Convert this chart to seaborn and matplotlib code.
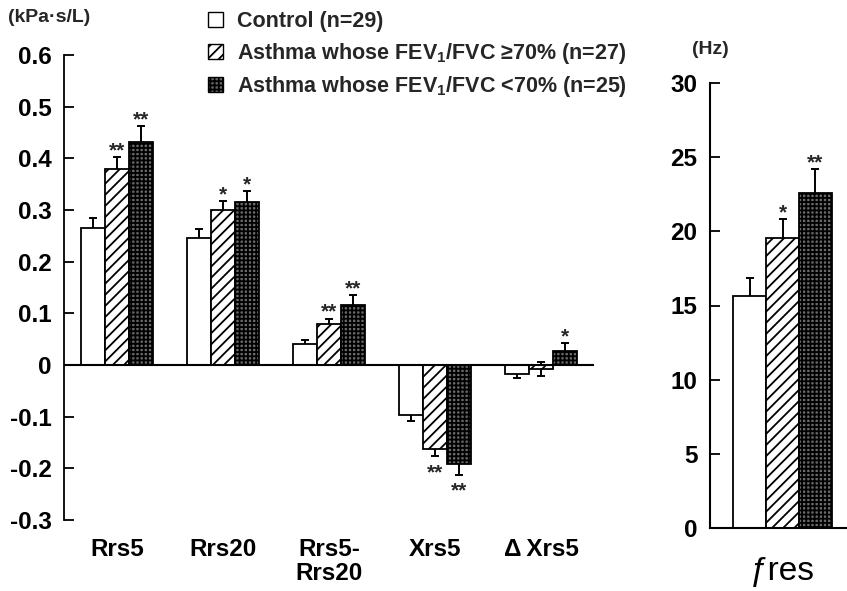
import numpy as np
import pandas as pd
import seaborn as sns
import matplotlib
matplotlib.use("Agg")
import matplotlib.pyplot as plt
from matplotlib.patches import Patch

# ---------------- data ----------------
params = ["Rrs5", "Rrs20", "Rrs5-\nRrs20", "Xrs5", "\u0394\u2009Xrs5"]
groups = ["Control (n=29)",
          "Asthma whose FEV1/FVC \u226570% (n=27)",
          "Asthma whose FEV1/FVC <70% (n=25)"]
legend_labels = ["Control (n=29)",
                 "Asthma whose FEV$_\\mathbf{1}$/FVC \u226570% (n=27)",
                 "Asthma whose FEV$_\\mathbf{1}$/FVC <70% (n=25)"]

control = [0.266, 0.245, 0.041, -0.096, -0.017]
control_se = [0.018, 0.018, 0.008, 0.012, 0.008]
mild = [0.380, 0.300, 0.080, -0.162, -0.007]
mild_se = [0.022, 0.017, 0.010, 0.015, 0.0135]
severe = [0.431, 0.315, 0.116, -0.191, 0.027]
severe_se = [0.032, 0.021, 0.020, 0.021, 0.016]

control_sig = ["", "", "", "", ""]
mild_sig = ["**", "*", "**", "**", ""]
severe_sig = ["**", "*", "**", "**", "*"]

fres_label = ["\u0192res"]
fres_mean = [15.65, 19.55, 22.6]
fres_se = [1.2, 1.3, 1.6]
fres_sig = ["", "*", "**"]

left_ticks = [0.6, 0.5, 0.4, 0.3, 0.2, 0.1, 0, -0.1, -0.2, -0.3]
left_ticklabels = ["0.6", "0.5", "0.4", "0.3", "0.2", "0.1", "0", "-0.1", "-0.2", "-0.3"]
right_ticks = [0, 5, 10, 15, 20, 25, 30]
right_ticklabels = ["0", "5", "10", "15", "20", "25", "30"]

# ---------------- style ----------------
sns.set_style("white")
plt.rcParams["font.family"] = ["Liberation Sans", "DejaVu Sans"]
plt.rcParams["font.weight"] = "bold"
plt.rcParams["axes.unicode_minus"] = False
plt.rcParams["mathtext.fontset"] = "custom"
plt.rcParams["mathtext.rm"] = "Liberation Sans:bold"
plt.rcParams["mathtext.bf"] = "Liberation Sans:bold"
plt.rcParams["hatch.linewidth"] = 1.3

styles = [dict(facecolor="white", hatch=""),
          dict(facecolor="white", hatch="///"),
          dict(facecolor="#6a6a6a", hatch="++++")]

W, H = 847, 591
fig = plt.figure(figsize=(W / 100, H / 100), dpi=100)
axL = fig.add_axes([64 / W, 71 / H, 530 / W, 465 / H])
axR = fig.add_axes([710 / W, 63 / H, 145 / W, 445 / H])

# ---------------- left panel ----------------
dfL = pd.DataFrame({
    "param": params * 3,
    "group": [g for g in groups for _ in params],
    "value": control + mild + severe,
})
sns.barplot(data=dfL, x="param", y="value", hue="group", order=params,
            hue_order=groups, palette={g: "white" for g in groups},
            width=0.68, errorbar=None, edgecolor="black", linewidth=1.3,
            saturation=1, legend=False, ax=axL)

ses = [control_se, mild_se, severe_se]
sigs = [control_sig, mild_sig, severe_sig]


def style_and_annotate(ax, containers, se_list, sig_list):
    for cont, st, se, sig in zip(containers, styles, se_list, sig_list):
        xs, tips = [], []
        for bar in cont:
            bar.set_facecolor(st["facecolor"])
            bar.set_hatch(st["hatch"])
            bar.set_edgecolor("black")
            bar.set_linewidth(1.3)
            bar.set_zorder(2)
            xs.append(bar.get_x() + bar.get_width() / 2)
            tips.append(bar.get_y() + bar.get_height())
        ax.errorbar(xs, tips, yerr=se, fmt="none", ecolor="black",
                    elinewidth=1.4, capsize=3.2, capthick=1.4, zorder=1)
        for x, t, e, s in zip(xs, tips, se, sig):
            if not s:
                continue
            if t >= 0:
                ax.annotate(s, (x, t + e), xytext=(0, 0.5), textcoords="offset points",
                            ha="center", va="baseline", fontsize=15, fontweight="bold")
            else:
                ax.annotate(s, (x, t - e), xytext=(0, -16), textcoords="offset points",
                            ha="center", va="baseline", fontsize=15, fontweight="bold")


style_and_annotate(axL, axL.containers, ses, sigs)
axL.axhline(0, color="black", lw=1.5, zorder=3)
axL.set_ylim(-0.3, 0.6)
axL.set_xlim(-0.5, 4.5)
axL.set_yticks(left_ticks)
axL.set_yticklabels(left_ticklabels)
axL.set_xlabel("")
axL.set_ylabel("")
for s in ["top", "right", "bottom"]:
    axL.spines[s].set_visible(False)
axL.spines["left"].set_linewidth(1.3)
axL.spines["left"].set_color("black")
axL.tick_params(axis="y", direction="in", length=7, width=1.3, labelsize=17.5,
                pad=9, left=True, colors="black")
axL.tick_params(axis="x", length=0, labelsize=17.5, pad=13, colors="black")
for lbl in axL.get_xticklabels() + axL.get_yticklabels():
    lbl.set_fontweight("bold")
for lbl in axL.get_xticklabels():
    lbl.set_linespacing(1.05)

# ---------------- right panel ----------------
dfR = pd.DataFrame({
    "param": fres_label * 3,
    "group": groups,
    "value": fres_mean,
})
sns.barplot(data=dfR, x="param", y="value", hue="group", order=fres_label,
            hue_order=groups, palette={g: "white" for g in groups},
            width=0.68, errorbar=None, edgecolor="black", linewidth=1.3,
            saturation=1, legend=False, ax=axR)
style_and_annotate(axR, axR.containers, [[v] for v in fres_se],
                   [[v] for v in fres_sig])
axR.set_ylim(0, 30)
axR.set_xlim(-0.5, 0.5)
axR.set_yticks(right_ticks)
axR.set_yticklabels(right_ticklabels)
axR.set_xlabel("")
axR.set_ylabel("")
for s in ["top", "right"]:
    axR.spines[s].set_visible(False)
for s in ["left", "bottom"]:
    axR.spines[s].set_linewidth(1.5)
    axR.spines[s].set_color("black")
axR.tick_params(axis="y", direction="in", length=7, width=1.3, labelsize=17.5,
                pad=9, left=True, colors="black")
axR.tick_params(axis="x", length=0, labelsize=24, pad=20, colors="black")
for lbl in axR.get_yticklabels():
    lbl.set_fontweight("bold")
for lbl in axR.get_xticklabels():
    lbl.set_fontweight("normal")

# ---------------- units & legend ----------------
fig.text(8 / W, 1 - 18 / H, "(kPa\u00b7s/L)", ha="left", va="center",
         fontsize=14, fontweight="bold")
fig.text(692 / W, 1 - 50 / H, "(Hz)", ha="left", va="center",
         fontsize=14, fontweight="bold")

handles = [Patch(facecolor=st["facecolor"], hatch=st["hatch"], edgecolor="black",
                 linewidth=1.0) for st in styles]
fig.legend(handles, legend_labels, loc="upper left",
           bbox_to_anchor=(208 / W, 1 - 11 / H), frameon=False,
           prop=dict(family="Liberation Sans", weight="bold", size=15.5),
           handlelength=0.7, handleheight=0.7, handletextpad=0.65,
           labelspacing=0.4, borderpad=0, borderaxespad=0)

fig.savefig("out.png", dpi=100)
